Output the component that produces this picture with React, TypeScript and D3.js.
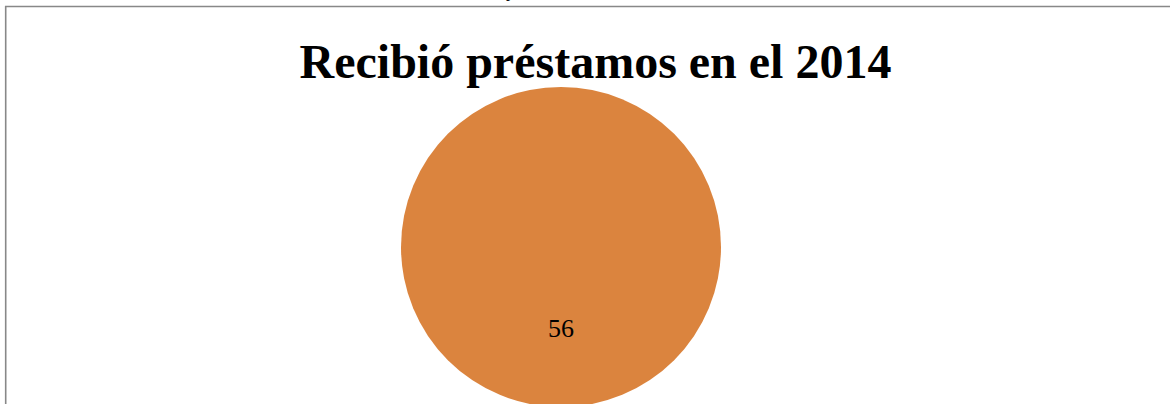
import React from "react";
import * as d3 from "d3";

const title = "Recibió préstamos en el 2014";
const categories = ["Sí"];
const values = [56];
const colors = ["#DB843E"];

export default function App() {
  const width = 1170;
  const height = 404;
  const cx = 561;
  const cy = 247;
  const radius = 160;
  const pie = d3.pie<number>().sort(null).value((d) => d);
  const arcs = pie(values);
  const arcGen = d3.arc<d3.PieArcDatum<number>>().innerRadius(0).outerRadius(radius);
  const labelArc = d3.arc<d3.PieArcDatum<number>>().innerRadius(radius * 0.5).outerRadius(radius * 0.5);
  return (
    <svg
      width={width}
      height={height}
      style={{ position: "absolute", left: 0, top: 0, background: "#fff" }}
      fontFamily="'Liberation Serif', 'Times New Roman', serif"
    >
      <text x={510} y={-3} fontSize={16} textAnchor="middle" fill="#000">p</text>
      <path d={`M5.7,${height + 2} L5.7,6.5 L${width + 2},6.5`} fill="none" stroke="#888" strokeWidth={1.6} />
      <text x={595.5} y={77.5} fontSize={48} fontWeight="bold" textAnchor="middle" fill="#000">
        {title}
      </text>
      <g transform={`translate(${cx},${cy})`}>
        {arcs.map((a, i) => (
          <path key={categories[i]} d={arcGen(a) || ""} fill={colors[i]} />
        ))}
        {arcs.map((a, i) => {
          const full = a.endAngle - a.startAngle >= 2 * Math.PI - 1e-6;
          const [lx, ly] = labelArc.centroid(a);
          return (
            <text key={"l" + i} x={full ? 0 : lx} y={full ? 90 : ly} fontSize={26} textAnchor="middle" fill="#000">
              {values[i]}
            </text>
          );
        })}
      </g>
    </svg>
  );
}
